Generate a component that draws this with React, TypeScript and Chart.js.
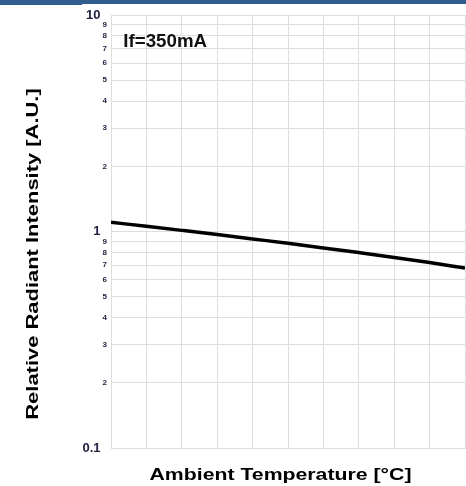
import { useEffect, useRef } from "react";
import { Chart, registerables } from "chart.js";

Chart.register(...registerables);

// ---- data ----
const temperatures = [0, 10, 20, 30, 40, 50, 60, 70, 80, 90, 100];
const relativeIntensity = [1.103, 1.057, 1.012, 0.968, 0.924, 0.882, 0.84, 0.799, 0.759, 0.719, 0.678];
const yTickValues = [0.1, 0.2, 0.3, 0.4, 0.5, 0.6, 0.7, 0.8, 0.9, 1, 2, 3, 4, 5, 6, 7, 8, 9, 10];
const majorTickValues = [0.1, 1, 10];
const majorTickLabels = ["0.1", "1", "10"];
const xTitle = "Ambient Temperature [°C]";
const yTitle = "Relative Radiant Intensity [A.U.]";
const annotationText = "If=350mA";

const FONT = '"Liberation Sans", Arial, Helvetica, sans-serif';
const GRID = "#dedede";

const isMajor = (v: number) => majorTickValues.some((m) => Math.abs(m - v) < 1e-9);
const tickLabel = (v: number) => {
  const idx = majorTickValues.findIndex((m) => Math.abs(m - v) < 1e-9);
  if (idx >= 0) return majorTickLabels[idx] + "\u2002";
  return v < 1 ? String(Math.round(v * 10)) : String(Math.round(v));
};

const textPlugin = {
  id: "customTexts",
  afterDraw(chart: any) {
    const ctx = chart.ctx as CanvasRenderingContext2D;
    const a = chart.chartArea;
    ctx.save();
    ctx.fillStyle = "#000";
    // x title
    ctx.font = `bold 17px ${FONT}`;
    ctx.textAlign = "center";
    ctx.textBaseline = "alphabetic";
    ctx.save();
    ctx.translate((a.left + a.right) / 2 - 7.5, a.bottom + 31.5);
    ctx.scale(1.25, 1);
    ctx.fillText(xTitle, 0, 0);
    ctx.restore();
    // y title
    ctx.save();
    ctx.translate(37.5, (a.top + a.bottom) / 2 + 22.5);
    ctx.rotate(-Math.PI / 2);
    ctx.scale(1.29, 1);
    ctx.fillText(yTitle, 0, 0);
    ctx.restore();
    // annotation
    ctx.font = `bold 18px ${FONT}`;
    ctx.textAlign = "left";
    ctx.fillStyle = "#111";
    ctx.save();
    ctx.translate(a.left + 12.3, a.top + 32.3);
    ctx.scale(1.04, 1);
    ctx.fillText(annotationText, 0, 0);
    ctx.restore();
    ctx.restore();
  },
};

export default function App() {
  const canvasRef = useRef<HTMLCanvasElement | null>(null);

  useEffect(() => {
    if (!canvasRef.current) return;
    const chart = new Chart(canvasRef.current, {
      type: "line",
      data: {
        labels: temperatures,
        datasets: [
          {
            data: temperatures.map((t, i) => ({ x: t, y: relativeIntensity[i] })),
            borderColor: "#000",
            borderWidth: 3.5,
            pointRadius: 0,
            cubicInterpolationMode: "monotone",
            fill: false,
          },
        ],
      },
      options: {
        animation: false,
        responsive: false,
        devicePixelRatio: 1,
        layout: { padding: { top: 15, right: 1, left: 0, bottom: 0 } },
        plugins: { legend: { display: false }, tooltip: { enabled: false } },
        scales: {
          x: {
            type: "linear",
            min: 0,
            max: 100,
            ticks: { display: false, stepSize: 10 },
            grid: { color: GRID, drawTicks: false, lineWidth: 1 },
            border: { color: GRID },
            afterFit: (scale: any) => {
              scale.height = 38;
            },
          },
          y: {
            type: "logarithmic",
            min: 0.1,
            max: 10,
            afterBuildTicks: (scale: any) => {
              scale.ticks = yTickValues.map((v) => ({ value: v, major: isMajor(v) }));
            },
            ticks: {
              autoSkip: false,
              padding: 4,
              color: "#1e1e40",
              callback: (v: any) => tickLabel(Number(v)),
              font: (ctx: any) =>
                ctx.tick && isMajor(ctx.tick.value)
                  ? { family: FONT, size: 13, weight: "bold" }
                  : { family: FONT, size: 8, weight: "bold" },
            },
            grid: { color: GRID, drawTicks: false, lineWidth: 1 },
            border: { color: GRID },
            afterFit: (scale: any) => {
              scale.width = 111;
            },
          },
        },
      } as any,
      plugins: [textPlugin],
    });
    return () => chart.destroy();
  }, []);

  return (
    <div style={{ position: "fixed", left: 0, top: 0, width: 466, height: 486, background: "#fff" }}>
      <canvas ref={canvasRef} width={466} height={486} style={{ display: "block" }} />
      <div style={{ position: "absolute", left: 0, top: 0, width: 82, height: 5, background: "#315d8f" }} />
      <div style={{ position: "absolute", left: 82, top: 0, width: 384, height: 4, background: "#315d8f" }} />
    </div>
  );
}
